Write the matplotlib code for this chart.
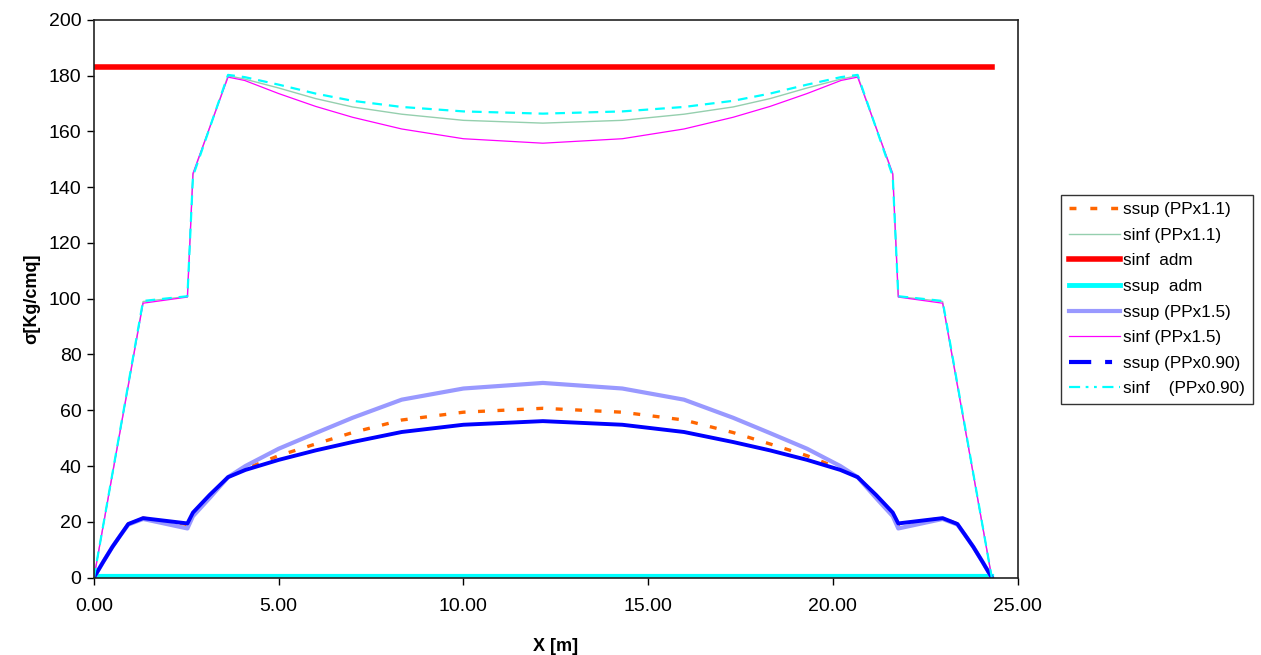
import matplotlib
matplotlib.use("Agg")
import matplotlib.pyplot as plt
from matplotlib.lines import Line2D

plt.rcParams['font.family'] = ['Liberation Sans', 'DejaVu Sans']
plt.rcParams['lines.scale_dashes'] = False

# sinf curves (upper)
x_sinf = [0, 1.33, 2.53, 2.68, 3.63, 4.08, 5.0, 6.0, 7.0, 8.33, 10.0, 12.15,
          14.3, 15.97, 17.3, 18.3, 19.3, 20.22, 20.67, 21.62, 21.77, 22.97, 24.3]
sinf_11 = [0, 99.0, 100.8, 144.5, 180.0, 178.8, 175.6, 171.8, 168.8, 166.2, 164.0, 163.0,
           164.0, 166.2, 168.8, 171.8, 175.6, 178.8, 180.0, 144.5, 100.8, 99.0, 0]
sinf_15 = [0, 98.4, 100.6, 145.0, 179.5, 178.3, 173.6, 169.0, 165.1, 160.9, 157.4, 155.8,
           157.4, 160.9, 165.1, 169.0, 173.6, 178.3, 179.5, 145.0, 100.6, 98.4, 0]
sinf_090 = [0, 99.2, 100.9, 144.0, 180.3, 179.5, 176.8, 173.6, 171.0, 168.8, 167.2, 166.4,
            167.2, 168.8, 171.0, 173.6, 176.8, 179.5, 180.3, 144.0, 100.9, 99.2, 0]

# ssup curves (lower)
x_ssup = [0, 0.25, 0.5, 0.72, 0.93, 1.33, 2.53, 2.68, 3.13, 3.63, 4.1, 5.0, 6.0, 7.0,
          8.33, 10.0, 12.15, 14.3, 15.97, 17.3, 18.3, 19.3, 20.2, 20.67, 21.17, 21.62,
          21.77, 22.97, 23.37, 23.58, 23.8, 24.05, 24.3]
ssup_11 = [0, 5.6, 11.0, 15.2, 19.2, 21.3, 19.0, 23.0, 29.3, 36.0, 39.0, 43.7, 47.9, 52.0,
           56.5, 59.3, 60.7, 59.3, 56.5, 52.0, 47.9, 43.7, 39.0, 36.0, 29.3, 23.0,
           19.0, 21.3, 19.2, 15.2, 11.0, 5.6, 0]
ssup_15 = [0, 5.6, 11.0, 15.2, 19.0, 21.0, 17.6, 22.0, 28.5, 36.0, 40.0, 46.2, 51.8, 57.3,
           63.8, 67.8, 69.8, 67.8, 63.8, 57.3, 51.8, 46.2, 40.0, 36.0, 28.5, 22.0,
           17.6, 21.0, 19.0, 15.2, 11.0, 5.6, 0]
ssup_090 = [0, 5.6, 11.0, 15.2, 19.2, 21.3, 19.4, 23.3, 29.6, 36.0, 38.6, 42.2, 45.6, 48.6,
            52.2, 54.8, 56.1, 54.8, 52.2, 48.6, 45.6, 42.2, 38.6, 36.0, 29.6, 23.3,
            19.4, 21.3, 19.2, 15.2, 11.0, 5.6, 0]

# admissible limits
x_adm = [0, 24.3]
sinf_adm = [183, 183]
ssup_adm = [0.5, 0.5]

fig = plt.figure(figsize=(12.61, 6.55), dpi=100)
ax = fig.add_axes([0.0745, 0.1183, 0.7325, 0.8512])

ax.plot(x_ssup, ssup_11, color='#FF6600', lw=2.4, dashes=(5, 9))
ax.plot(x_sinf, sinf_11, color='#95CFAE', lw=1.0)
ax.plot(x_adm, sinf_adm, color='#FF0000', lw=4.0)
ax.plot(x_adm, ssup_adm, color='#00FFFF', lw=3.0)
ax.plot(x_ssup, ssup_15, color='#9999FF', lw=3.0)
ax.plot(x_sinf, sinf_15, color='#FF00FF', lw=0.9)
ax.plot(x_ssup, ssup_090, color='#0000FF', lw=2.8)
ax.plot(x_sinf, sinf_090, color='#00FFFF', lw=1.6, dashes=(7, 5))

ax.set_xlim(0, 25)
ax.set_ylim(0, 200)
ax.set_xticks([0, 5, 10, 15, 20, 25])
ax.set_xticklabels(['0.00', '5.00', '10.00', '15.00', '20.00', '25.00'])
ax.set_yticks(range(0, 201, 20))
ax.tick_params(direction='out', length=5, width=1, labelsize=14, pad=4)
ax.tick_params(axis='x', pad=10)
for s in ax.spines.values():
    s.set_linewidth(1.2)
    s.set_color('#222222')

ax.set_xlabel('X [m]', fontsize=13, fontweight='bold', labelpad=16)
ax.set_ylabel('σ[Kg/cmq]', fontsize=13, fontweight='bold', labelpad=6)

handles = [
    Line2D([], [], color='#FF6600', lw=2.5, dashes=(5, 10)),
    Line2D([], [], color='#95CFAE', lw=1.0),
    Line2D([], [], color='#FF0000', lw=4.0),
    Line2D([], [], color='#00FFFF', lw=3.5),
    Line2D([], [], color='#9999FF', lw=3.0),
    Line2D([], [], color='#FF00FF', lw=0.9),
    Line2D([], [], color='#0000FF', lw=3.0, dashes=(16, 10, 5, 10)),
    Line2D([], [], color='#00FFFF', lw=1.6, dashes=(8, 4, 2, 4, 2, 4)),
]
labels = ['ssup (PPx1.1)', 'sinf (PPx1.1)', 'sinf  adm', 'ssup  adm',
          'ssup (PPx1.5)', 'sinf (PPx1.5)', 'ssup (PPx0.90)', 'sinf    (PPx0.90)']
leg = fig.legend(handles, labels, loc='upper left', bbox_to_anchor=(0.8415, 0.703),
                 fontsize=12.3, frameon=True, fancybox=False, edgecolor='black',
                 handlelength=3.0, handletextpad=0.2, labelspacing=0.62,
                 borderpad=0.45, borderaxespad=0)
leg.get_frame().set_linewidth(1.0)

fig.savefig('out.png', dpi=100)
